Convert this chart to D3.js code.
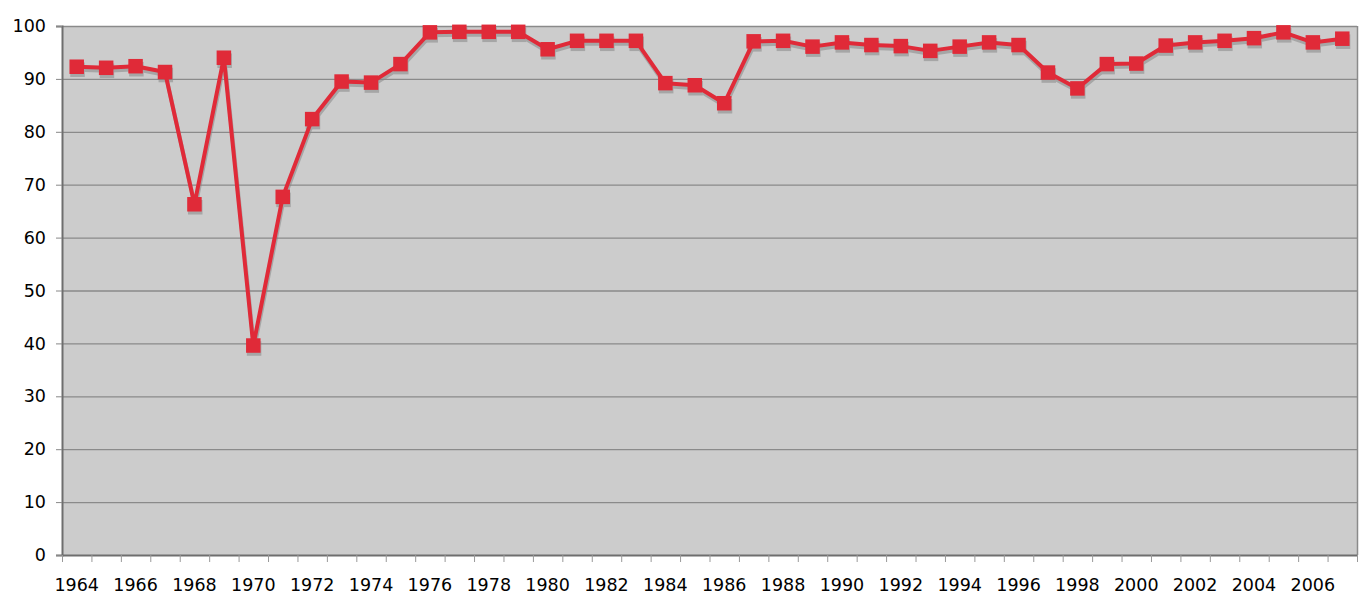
<!DOCTYPE html>
<html>
<head>
<meta charset="utf-8">
<script src="https://cdn.jsdelivr.net/npm/d3@7"></script>
<style>
  body { margin: 0; background: #fff; }
  svg { display: block; }
</style>
</head>
<body>
<div id="chart"></div>
<script>
var years = d3.range(1964, 2008);

var values = [
  92.3, 92.1, 92.4, 91.3, 66.3, 94.0, 39.6, 67.7, 82.4, 89.5,
  89.3, 92.8, 98.8, 98.9, 98.9, 98.9, 95.6, 97.2, 97.2, 97.2,
  89.2, 88.8, 85.4, 97.1, 97.2, 96.1, 96.9, 96.4, 96.2, 95.3,
  96.1, 96.9, 96.4, 91.2, 88.2, 92.8, 92.9, 96.3, 96.9, 97.2,
  97.7, 98.8, 96.9, 97.6
];

var yTicks = [0, 10, 20, 30, 40, 50, 60, 70, 80, 90, 100];

var data = years.map(function(y, i) { return {year: y, value: values[i]}; });

var w = 1366, h = 605;
var margin = {top: 26, right: 9, bottom: 50, left: 62};
var iw = w - margin.left - margin.right;
var ih = h - margin.top - margin.bottom;

var svg = d3.select("#chart").append("svg")
  .attr("width", w)
  .attr("height", h);

var g = svg.append("g")
  .attr("transform", "translate(" + margin.left + "," + margin.top + ")");

var x = d3.scaleBand().domain(years).range([0, iw]);
var y = d3.scaleLinear().domain([0, 100]).range([ih, 0]);

var font = "'DejaVu Sans', Verdana, sans-serif";

// plot background
g.append("rect")
  .attr("width", iw)
  .attr("height", ih)
  .style("fill", "#cccccc");

// gridlines
g.selectAll(".grid")
  .data(yTicks.slice(1))
  .enter()
  .append("line")
  .attr("x1", 0)
  .attr("x2", iw)
  .attr("y1", function(d) { return y(d) + 0.5; })
  .attr("y2", function(d) { return y(d) + 0.5; })
  .style("stroke", "#8a8a8a")
  .style("stroke-width", 1.3);

// right border
g.append("line")
  .attr("x1", iw + 0.5).attr("x2", iw + 0.5)
  .attr("y1", 0).attr("y2", ih)
  .style("stroke", "#8a8a8a")
  .style("stroke-width", 1.5);

// y axis
var yAxis = g.append("g")
  .call(d3.axisLeft(y).tickValues(yTicks).tickSize(6).tickPadding(10));
yAxis.select(".domain").style("stroke", "#6e6e6e").style("stroke-width", 2);
yAxis.selectAll(".tick line").style("stroke", "#888");
yAxis.selectAll("text")
  .style("font-family", font)
  .style("font-size", "17.5px")
  .style("fill", "#000");

// x axis: ticks on every band edge, labels every other year
var edges = years.map(function(d) { return x(d); }).concat([iw]);
var xAxis = g.append("g").attr("transform", "translate(0," + ih + ")");
xAxis.append("line")
  .attr("x1", 0).attr("x2", iw)
  .attr("y1", 0.5).attr("y2", 0.5)
  .style("stroke", "#6e6e6e")
  .style("stroke-width", 2);
xAxis.selectAll(".xt")
  .data(edges)
  .enter()
  .append("line")
  .attr("x1", function(d) { return d + 0.5; })
  .attr("x2", function(d) { return d + 0.5; })
  .attr("y1", 0)
  .attr("y2", 7)
  .style("stroke", "#999");
xAxis.selectAll(".xl")
  .data(years.filter(function(d) { return (d - 1964) % 2 === 0; }))
  .enter()
  .append("text")
  .attr("x", function(d) { return x(d) + x.bandwidth() / 2; })
  .attr("y", 35.5)
  .attr("text-anchor", "middle")
  .style("font-family", font)
  .style("font-size", "17.5px")
  .style("fill", "#000")
  .text(function(d) { return d; });

var cx = function(d) { return x(d.year) + x.bandwidth() / 2; };
var cy = function(d) { return y(d.value); };
var line = d3.line().x(cx).y(cy);
var ms = 14.5;

// shadow
var shadow = g.append("g")
  .attr("transform", "translate(0.8,3)")
  .style("opacity", 0.55);
shadow.append("path")
  .datum(data)
  .attr("d", line)
  .style("fill", "none")
  .style("stroke", "#888")
  .style("stroke-width", 4);
shadow.selectAll("rect")
  .data(data)
  .enter()
  .append("rect")
  .attr("x", function(d) { return cx(d) - ms / 2; })
  .attr("y", function(d) { return cy(d) - ms / 2; })
  .attr("width", ms)
  .attr("height", ms)
  .style("fill", "#888");

// series
g.append("path")
  .datum(data)
  .attr("d", line)
  .style("fill", "none")
  .style("stroke", "#e02a38")
  .style("stroke-width", 4)
  .style("stroke-linejoin", "round");

g.selectAll(".marker")
  .data(data)
  .enter()
  .append("rect")
  .attr("class", "marker")
  .attr("x", function(d) { return cx(d) - ms / 2; })
  .attr("y", function(d) { return cy(d) - ms / 2; })
  .attr("width", ms)
  .attr("height", ms)
  .style("fill", "#e02a38");
</script>
</body>
</html>
